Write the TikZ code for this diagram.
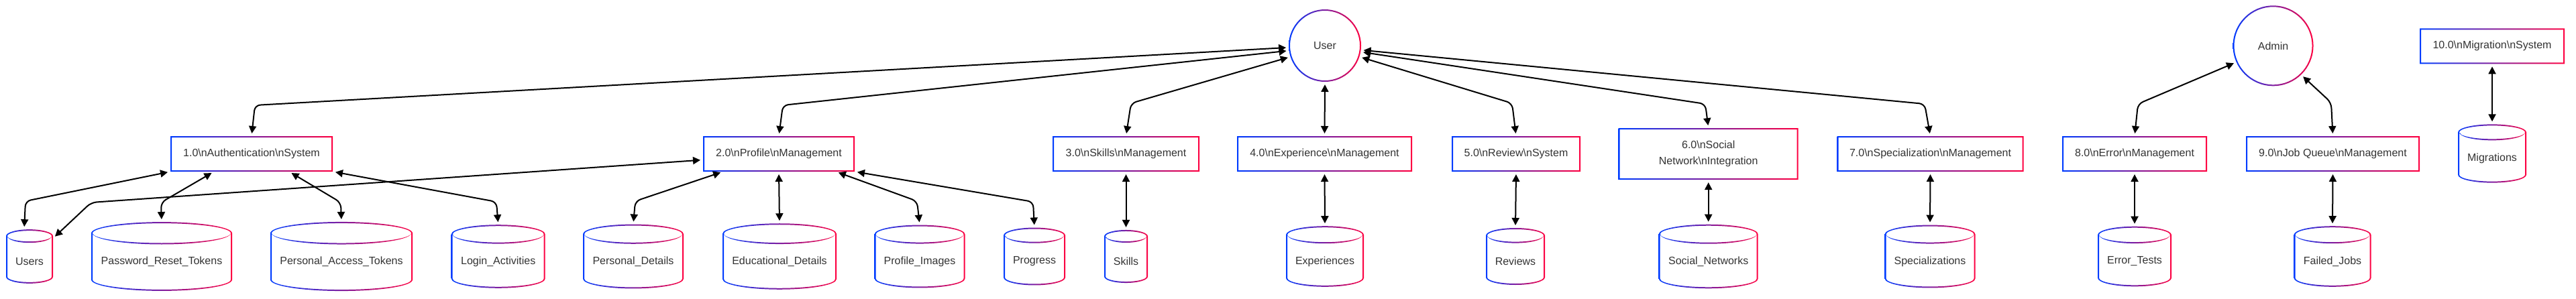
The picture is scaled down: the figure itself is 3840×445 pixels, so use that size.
\documentclass[tikz,border=0pt]{standalone}
\usepackage{fontspec}
\setmainfont{Liberation Sans}
\usetikzlibrary{arrows.meta}

\definecolor{rimblue}{RGB}{0,60,255}
\definecolor{rimred}{RGB}{255,0,64}
\definecolor{inkgray}{RGB}{51,51,51}

\newcommand{\nlit}{\textbackslash n}

\tikzset{
  proc/.style={rectangle, fill=white, minimum height=53pt, inner sep=0pt, outer sep=0pt,
    text=inkgray, font=\fontsize{16}{24}\selectfont, align=center},
  actor/.style={circle, fill=white, inner sep=0pt, outer sep=0pt,
    text=inkgray, font=\fontsize{16}{24}\selectfont},
  store/.style={rectangle, inner sep=0pt, outer sep=0pt},
  storetext/.style={inner sep=0pt, text=inkgray, font=\fontsize{16}{24}\selectfont},
  rim/.style={left color=rimblue, right color=rimred},
  flow/.style={<->, >={Triangle[length=11pt,width=11pt]}, line width=2pt,
    shorten >=4pt, shorten <=4pt, rounded corners=8pt},
}

% gradient outline of a box node
\newcommand{\rimbox}[1]{%
  \shade[rim, even odd rule] (#1.south west) rectangle (#1.north east)
    ([shift={(2pt,2pt)}]#1.south west) rectangle ([shift={(-2pt,-2pt)}]#1.north east);}
% gradient outline of a circle node
\newcommand{\rimring}[2]{%
  \shade[rim, even odd rule] (#1.center) circle[radius=#2] (#1.center) circle[radius=#2-2];}
% database cylinder: name, x, y, width, ry, label
\newcommand{\dbcyl}[6]{%
  \pgfmathsetmacro{\crx}{#4/2-1}%
  \pgfmathsetmacro{\cht}{51+3.3*#5}%
  \pgfmathsetmacro{\cyt}{\cht/2-#5-1}%
  \node[store, minimum width=#4pt, minimum height=\cht pt] (#1) at (#2,#3) {};
  \shade[rim, even odd rule, shift={(#2,#3)}]
    (-\crx-1,\cyt) arc[start angle=180, end angle=0, x radius=\crx+1, y radius=#5+1]
    -- (\crx+1,-\cyt) arc[start angle=0, end angle=-180, x radius=\crx+1, y radius=#5+1] -- cycle
    (-\crx+1,\cyt) arc[start angle=180, end angle=0, x radius=\crx-1, y radius=#5-1]
    -- (\crx-1,-\cyt) arc[start angle=0, end angle=-180, x radius=\crx-1, y radius=#5-1] -- cycle
    (-\crx+1,\cyt) arc[start angle=180, end angle=360, x radius=\crx-1, y radius=#5+1]
    arc[start angle=0, end angle=-180, x radius=\crx-1, y radius=#5-1] -- cycle;
  \node[storetext] (#1-l) at (#2,#3-7.5) {#6};
}

\begin{document}
\begin{tikzpicture}[x=1pt, y=1pt]
\useasboundingbox (0,0) rectangle (3840,-445);

\node[actor, minimum size=108pt] (user) at (1975,-68) {User};
\node[actor, minimum size=120pt] (admin) at (3388.5,-68.3) {Admin};

\node[proc, minimum width=242pt] (n1) at (375,-229.5) {1.0\nlit{}Authentication\nlit{}System};
\node[proc, minimum width=226pt] (n2) at (1161,-229.5) {2.0\nlit{}Profile\nlit{}Management};
\node[proc, minimum width=219pt] (n3) at (1678.5,-229.5) {3.0\nlit{}Skills\nlit{}Management};
\node[proc, minimum width=261pt] (n4) at (1974.5,-229.5) {4.0\nlit{}Experience\nlit{}Management};
\node[proc, minimum width=192pt] (n5) at (2260,-229.5) {5.0\nlit{}Review\nlit{}System};
\node[proc, minimum width=268pt, minimum height=77pt] (n6) at (2546.7,-229.6) {6.0\nlit{}Social\\Network\nlit{}Integration};
\node[proc, minimum width=278pt] (n7) at (2877.5,-229.5) {7.0\nlit{}Specialization\nlit{}Management};
\node[proc, minimum width=216pt] (n8) at (3182,-229.5) {8.0\nlit{}Error\nlit{}Management};
\node[proc, minimum width=259pt] (n9) at (3477.5,-229.5) {9.0\nlit{}Job Queue\nlit{}Management};
\node[proc, minimum width=216pt] (n10) at (3715,-68.8) {10.0\nlit{}Migration\nlit{}System};

\foreach \nm/\cx/\cw/\cr/\tx in {users/44/70/9/Users,
    prt/241/210/15.7/Password\_Reset\_Tokens, pat/509/212/15.8/Personal\_Access\_Tokens,
    login/742.7/140/13.2/Login\_Activities, pdet/944/150/13.6/Personal\_Details,
    edu/1162/170/14.4/Educational\_Details, pimg/1371/135/13/Profile\_Images,
    prog/1542/92/10.6/Progress, skills/1678.5/65/8.5/Skills, exp/1975/116/12/Experiences,
    rev/2259/88/10.3/Reviews, soc/2546.7/148/13.5/Social\_Networks,
    spec/2877/135/13/Specializations, err/3182/110/11.7/Error\_Tests,
    fjobs/3477/115/12/Failed\_Jobs}
  {\dbcyl{\nm}{\cx}{-382.5}{\cw}{\cr}{\tx}}
\dbcyl{mig}{3715}{-229}{102}{11}{Migrations}

\foreach \b in {1,...,10}
  \rimbox{n\b};
\rimring{user}{54}
\rimring{admin}{60}

% user to processes
\draw[flow] (user.183) -- (380,-157) -- (n1.north);
\draw[flow] (user.188) -- (1167,-157) -- (n2.north);
\draw[flow] (user.198) -- (1686,-154) -- (n3.north);
\draw[flow] (user.south) -- (n4.north);
\draw[flow] (user.342) -- (2254,-154) -- (n5.north);
\draw[flow] (user.350) -- (2542,-155) -- (n6.north);
\draw[flow] (user.353) -- (2869,-155) -- (n7.north);
% admin
\draw[flow] (admin.204) -- (3187,-155) -- (n8.north);
\draw[flow] (admin.314) -- (3475,-153) -- (n9.north);

% processes to stores
\draw[flow] (n1.south west) -- (38,-300) -- ([xshift=-8pt]users.north);
\draw[flow] ([xshift=-56pt]n1.south) -- (240,-302) -- (prt.north);
\draw[flow] ([xshift=56pt]n1.south) -- (508,-302) -- (pat.north);
\draw[flow] (n1.south east) -- (740,-301) -- (login.north);
\draw[flow] ([yshift=-9pt]n2.west) -- (136,-302) -- ([yshift=27pt]users.east);
\draw[flow] ([xshift=-83pt]n2.south) -- (947,-300) -- (pdet.north);
\draw[flow] ([xshift=85pt]n2.south) -- (1367,-300) -- (pimg.north);
\draw[flow] (n2.south east) -- (1540,-301) -- (prog.north);
\foreach \a/\b in {n2/edu, n3/skills, n4/exp, n5/rev, n6/soc, n7/spec, n8/err, n9/fjobs, n10/mig}
  \draw[flow] (\a.south) -- (\b.north);
\end{tikzpicture}
\end{document}
